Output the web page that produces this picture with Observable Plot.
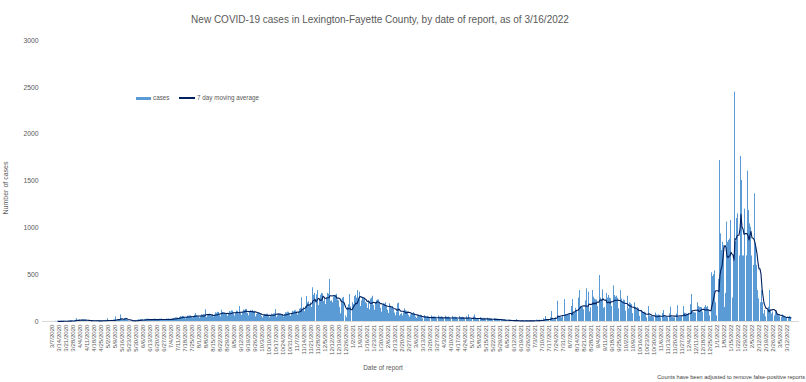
<!DOCTYPE html>
<html><head><meta charset="utf-8">
<script src="https://cdn.jsdelivr.net/npm/d3@7"></script>
<script src="https://cdn.jsdelivr.net/npm/@observablehq/plot@0.6"></script>
<style>
body{margin:0;background:#fff;font-family:"Liberation Sans",Arial,sans-serif;}
#wrap{position:relative;width:806px;height:382px;overflow:hidden;background:#fff}
#wrap svg{position:absolute;left:0;top:0}
.t{position:absolute;white-space:nowrap;color:#595959}
</style></head><body>
<div id="wrap">
  <div class="t" style="left:0;width:760px;text-align:center;top:14px;line-height:12px;font-size:10px">New COVID-19 cases in Lexington-Fayette County, by date of report, as of 3/16/2022</div>
  <div style="position:absolute;left:136px;top:96.5px;width:15px;height:3.5px;background:#5B9BD5"></div>
  <div class="t" style="left:153px;top:93px;line-height:10px;font-size:6.3px">cases</div>
  <div style="position:absolute;left:179px;top:97.4px;width:16px;height:1.2px;background:#002060"></div>
  <div class="t" style="left:197px;top:93px;line-height:10px;font-size:6.3px">7 day moving average</div>
  <div class="t" style="left:6px;top:188px;line-height:10px;font-size:7px;transform:translate(-50%,-50%) rotate(-90deg)">Number of cases</div>
  <div class="t" style="left:383px;top:368px;line-height:10px;font-size:6.5px;transform:translate(-50%,-50%)">Date of report</div>
  <div class="t" style="right:1px;top:372px;line-height:10px;font-size:5.6px;color:#404040">Counts have been adjusted to remove false-positive reports</div>
</div>
<script>
// Daily new cases, by date of report, starting 3/7/2020
const startYear = 2020, startMonth = 3, startDay = 7;
const cases2020 = [ // 3/7/2020 - 12/31/2020
1,0,0,1,2,1,2, 1,0,2,3,2,4,3, 2,1,4,6,5,8,9, 6,3,10,14,30,12,9, 18,8,12,16,18,17,16,
6,4,7,9,10,11,9, 5,3,6,8,9,9,9, 6,3,7,9,10,12,9, 30,2,6,9,12,10,15, 15,50,10,18,20,12,70,
25,12,20,30,35,20,12, 5,3,6,8,9,10,8, 10,8,14,18,16,20,19, 15,10,18,24,22,26,25, 16,11,19,22,23,25,24,
17,12,20,25,24,27,22, 18,12,21,26,25,28,24, 22,15,28,34,33,40,38, 38,25,42,52,50,55,53, 42,28,46,58,56,60,60,
50,34,52,66,85,64,55, 52,36,56,72,68,75,75, 125,42,60,72,80,60,65, 68,46,72,92,88,98,96, 72,50,120,96,92,86,79,
80,56,84,106,102,112,111, 84,58,88,112,108,76,160, 92,64,96,122,118,128,129, 86,60,107,115,110,120,102,
107,50,74,94,90,80,79, 55,38,58,75,72,78,79, 58,40,62,78,75,80,83, 128,45,60,80,72,72,68, 70,48,74,94,90,100,98,
80,56,86,110,104,115,114, 100,70,100,130,140,253,117, 150,105,160,267,200,210,168, 200,150,360,280,300,0,285,
331,170,230,280,300,295,214, 240,180,250,300,290,449,216, 220,200,260,270,280,290,230, 220,150,82,230,250,258,0,
60,40,150,180,288,157
];
const cases2021 = [ // 1/1/2021 - 12/31/2021
0,
200,180,267,280,250,331,242, 313,160,220,260,250,240,202, 190,140,220,125,240,250,270, 170,120,200,220,230,230,195,
140,100,170,190,185,200,170, 120,85,189,150,145,160,131, 90,60,100,189,196,60,75, 85,60,95,135,115,110,100,
65,45,70,85,80,95,85, 48,32,52,62,60,68,63, 29,0,63,50,50,52,50, 28,0,60,48,48,50,46, 27,0,58,47,46,50,45,
26,0,57,46,45,48,44, 26,0,55,45,44,47,42, 25,0,54,43,43,45,42, 24,0,50,40,71,30,23, 22,0,48,71,30,28,25,
20,0,42,34,33,35,32, 17,0,36,29,28,30,28, 15,0,32,25,25,26,24, 10,0,21,17,16,18,16, 7,0,15,12,12,13,11,
5,0,10,21,5,4,4, 5,0,11,8,8,9,8, 5,0,10,9,8,9,8, 7,0,15,12,12,13,11, 14,0,30,22,53,12,9, 22,0,40,107,20,18,17,
40,0,217,50,45,42,40, 55,0,235,75,70,70,69, 80,0,160,235,95,95,140, 115,0,250,331,160,150,149, 125,0,220,349,150,313,103,
145,0,331,260,240,230,229, 160,0,491,250,230,338,141, 150,0,300,250,278,250,242, 160,0,380,278,260,270,248,
135,0,330,240,206,230,224, 110,0,270,135,200,190,180, 85,0,200,150,117,150,138, 55,0,120,100,95,100,90,
40,0,160,60,55,55,50, 40,0,90,70,65,70,64, 38,0,85,117,50,52,50, 40,0,80,153,45,42,39, 40,0,80,168,45,45,42,
55,0,160,90,85,80,76, 85,0,180,288,100,95,92, 90,0,200,160,150,150,146,
100,0,150,170,150,160,120, 60,0,520,480,500,540,200
];
const cases2022 = [ // 1/1/2022 - 3/16/2022
60,0,450,1719,936,758,847, 811,150,300,1061,847,865,880, 1079,0,250,650,2449,850,1100, 1150,0,700,1762,1506,700,700,
1200,0,700,1605,1185,1043,1007, 700,0,600,1363,800,600,331, 242,0,200,331,200,80,117, 50,0,117,153,331,117,80,
100,0,60,117,90,82,70, 50,0,45,70,60,55,40, 35,0,40,55,45
];
const yTicks = [0, 500, 1000, 1500, 2000, 2500, 3000];

const cases = [...cases2020, ...cases2021, ...cases2022];
const labels = cases.map((_, i) => {
  const d = new Date(startYear, startMonth - 1, startDay + i);
  return `${d.getMonth() + 1}/${d.getDate()}/${d.getFullYear()}`;
});
const tickLabels = labels.filter((_, i) => i % 7 === 0);
const rows = cases.map((v, i) => ({date: labels[i], cases: v}));

const chart = Plot.plot({
  width: 806, height: 382,
  marginLeft: 42, marginRight: 7, marginTop: 40, marginBottom: 61,
  style: {fontFamily: "'Liberation Sans', Arial, sans-serif", color: "#595959", background: "transparent"},
  x: {type: "band", domain: labels, padding: 0, axis: null},
  y: {domain: [0, 3000], axis: null},
  marks: [
    Plot.ruleY([0], {stroke: "#d9d9d9"}),
    Plot.barY(rows, {x: "date", y: "cases", fill: "#5B9BD5"}),
    Plot.lineY(rows, Plot.windowY({k: 7, anchor: "end", strict: true}, {x: "date", y: "cases", stroke: "#002060", strokeWidth: 1.1})),
    Plot.axisY({ticks: yTicks, tickSize: 0, tickPadding: 4, fontSize: 6.8, tickFormat: d => String(d), label: null}),
    Plot.axisX({ticks: tickLabels, tickSize: 0, tickPadding: 3, tickRotate: -90, fontSize: 6.1, label: null})
  ]
});
document.getElementById("wrap").prepend(chart);
</script>
</body></html>
